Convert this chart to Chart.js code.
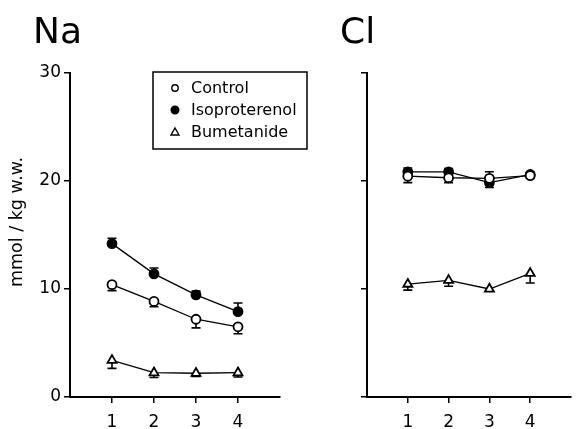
<!DOCTYPE html>
<html>
<head>
<meta charset="utf-8">
<script src="https://cdn.jsdelivr.net/npm/chart.js@4"></script>
<style>
  html, body { margin: 0; padding: 0; background: #fff; }
  #wrap { position: relative; width: 578px; height: 429px; overflow: hidden; }
  #wrap canvas { position: absolute; top: 0; }
</style>
</head>
<body>
<div id="wrap">
  <canvas id="chart-na" width="320" height="429" style="left:0"></canvas>
  <canvas id="chart-cl" width="288" height="429" style="left:290px"></canvas>
</div>
<script>
// ============================================================
// Na / Cl content, mmol per kg wet weight, time points 1–4
// err: one-sided SEM, sign gives the side the bar is drawn on
// ============================================================

const timePoints  = [1, 2, 3, 4];
const seriesNames = ['Control', 'Isoproterenol', 'Bumetanide'];
const yTicks      = [0, 10, 20, 30];

const naControl    = [10.4, 8.85, 7.2, 6.5];
const naControlErr = [-0.55, -0.5, -0.8, -0.65];
const naIso        = [14.2, 11.4, 9.45, 7.9];
const naIsoErr     = [0.5, 0.55, 0.35, 0.8];
const naBum        = [3.4, 2.25, 2.2, 2.25];
const naBumErr     = [-0.75, -0.45, -0.3, -0.4];

const clControl    = [20.45, 20.3, 20.25, 20.5];
const clControlErr = [-0.6, -0.45, 0.6, -0.2];
const clIso        = [20.85, 20.85, 19.85, 20.6];
const clIsoErr     = [0.35, 0.3, -0.45, 0.2];
const clBum        = [10.45, 10.8, 10.0, 11.45];
const clBumErr     = [-0.55, -0.55, -0.2, -0.9];

const FONT = 'DejaVu Sans, sans-serif';

const toPoints = vals => timePoints.map((t, i) => ({ x: t, y: vals[i] }));

// marker look per series (order matches seriesNames)
const markerStyle = [
  { pointStyle: 'circle',   pointRadius: 4.5, pointBackgroundColor: '#fff' },
  { pointStyle: 'circle',   pointRadius: 4.5, pointBackgroundColor: '#000' },
  { pointStyle: 'triangle', pointRadius: 5.2, pointBackgroundColor: '#fff' },
];

function makeDatasets(values, errs) {
  return values.map((v, i) => ({
    label: seriesNames[i],
    data: toPoints(v),
    err: errs[i],
    borderColor: '#000',
    borderWidth: 1.3,
    pointBorderColor: '#000',
    pointBorderWidth: 1.8,
    tension: 0,
    ...markerStyle[i],
  }));
}

// error bars go under the markers so the open symbols hide the stem
const errorBars = {
  id: 'errorBars',
  beforeDatasetsDraw(chart) {
    const { ctx, scales: { y } } = chart;
    ctx.save();
    ctx.strokeStyle = '#000';
    ctx.lineWidth = 1.6;
    chart.data.datasets.forEach((ds, i) => {
      chart.getDatasetMeta(i).data.forEach((pt, j) => {
        const e = ds.err[j];
        if (!e) return;
        const v  = ds.data[j].y;
        const y0 = y.getPixelForValue(v);
        const y1 = y.getPixelForValue(v + e);
        ctx.beginPath();
        ctx.moveTo(pt.x, y0); ctx.lineTo(pt.x, y1);
        ctx.moveTo(pt.x - 4.5, y1); ctx.lineTo(pt.x + 4.5, y1);
        ctx.stroke();
      });
    });
    ctx.restore();
  }
};

// big element symbol above each panel
const panelTitle = {
  id: 'panelTitle',
  afterDraw(chart, args, opts) {
    const { ctx } = chart;
    ctx.save();
    ctx.fillStyle = '#000';
    ctx.font = `36px ${FONT}`;
    ctx.textBaseline = 'alphabetic';
    ctx.fillText(opts.text, opts.x, 43);
    if (opts.yLabel) {
      ctx.translate(17, 222);
      ctx.rotate(-Math.PI / 2);
      ctx.font = `17.5px ${FONT}`;
      ctx.textAlign = 'center';
      ctx.textBaseline = 'middle';
      ctx.fillText(opts.yLabel, 0, 0);
    }
    ctx.restore();
  }
};

// boxed key inside the Na panel
const keyBox = {
  id: 'keyBox',
  afterDraw(chart, args, opts) {
    if (!opts.show) return;
    const { ctx } = chart;
    ctx.save();
    ctx.strokeStyle = '#000';
    ctx.lineWidth = 1.5;
    ctx.strokeRect(153, 72, 154, 77);
    ctx.font = `16px ${FONT}`;
    ctx.textBaseline = 'middle';
    seriesNames.forEach((name, i) => {
      const cy = 88 + i * 22;
      const st = markerStyle[i];
      ctx.fillStyle = st.pointBackgroundColor;
      ctx.lineWidth = 1.4;
      ctx.beginPath();
      if (st.pointStyle === 'triangle') {
        ctx.moveTo(175, cy - 4); ctx.lineTo(179, cy + 3); ctx.lineTo(171, cy + 3); ctx.closePath();
      } else {
        ctx.arc(175, cy, i === 1 ? 3.8 : 3.2, 0, Math.PI * 2);
      }
      ctx.fill(); ctx.stroke();
      ctx.fillStyle = '#000';
      ctx.fillText(name, 191, cy + 1);
    });
    ctx.restore();
  }
};

function makeChart(id, values, errs, title, showLabels) {
  return new Chart(document.getElementById(id).getContext('2d'), {
    type: 'line',
    data: { datasets: makeDatasets(values, errs) },
    options: {
      responsive: false,
      animation: false,
      layout: { padding: { top: 73, right: showLabels ? 40 : 1, left: 0, bottom: 0 } },
      scales: {
        x: {
          type: 'linear', min: 0, max: 5,
          afterBuildTicks: s => { s.ticks = timePoints.map(v => ({ value: v })); },
          afterFit: s => { s.height = 32; },
          border: { color: '#000', width: 2 },
          grid: { drawOnChartArea: false, drawTicks: true, tickLength: 6, color: '#000', lineWidth: 1.5 },
          ticks: { color: '#000', font: { size: 17, family: FONT }, padding: 9, maxRotation: 0 }
        },
        y: {
          min: 0, max: 30,
          afterBuildTicks: s => { s.ticks = yTicks.map(v => ({ value: v })); },
          afterFit: s => { s.width = showLabels ? 70 : 77; },
          border: { color: '#000', width: 2 },
          grid: { drawOnChartArea: false, drawTicks: true, tickLength: 6, color: '#000', lineWidth: 1.5 },
          ticks: { display: showLabels, color: '#000', font: { size: 17, family: FONT }, padding: 3 }
        }
      },
      plugins: {
        legend: { display: false },
        tooltip: { enabled: false },
        panelTitle: { text: title, x: showLabels ? 33 : 50, yLabel: showLabels ? 'mmol / kg w.w.' : null },
        keyBox: { show: showLabels }
      }
    },
    plugins: [errorBars, panelTitle, keyBox]
  });
}

makeChart('chart-na', [naControl, naIso, naBum], [naControlErr, naIsoErr, naBumErr], 'Na', true);
makeChart('chart-cl', [clControl, clIso, clBum], [clControlErr, clIsoErr, clBumErr], 'Cl', false);
</script>
</body>
</html>
